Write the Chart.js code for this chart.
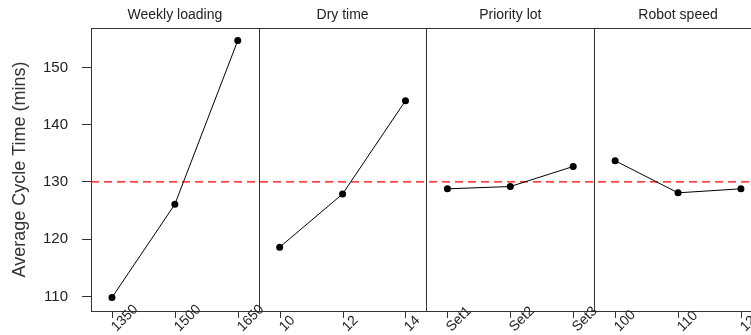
<!DOCTYPE html>
<html>
<head>
<meta charset="utf-8">
<script src="https://cdn.jsdelivr.net/npm/chart.js@4"></script>
<style>
  html, body { margin: 0; padding: 0; background: #fff; overflow: hidden; }
  canvas { display: block; }
</style>
</head>
<body>
<canvas id="mainEffects" width="751" height="335"></canvas>
<script>
// factors and their levels
var factors = ['Weekly loading', 'Dry time', 'Priority lot', 'Robot speed'];
var levels = [
  ['1350', '1500', '1650'],
  ['10', '12', '14'],
  ['Set1', 'Set2', 'Set3'],
  ['100', '110', '120']
];
// mean cycle time per level
var weeklyLoading = [109.8, 126.1, 154.7];
var dryTime = [118.6, 127.9, 144.2];
var priorityLot = [128.8, 129.2, 132.7];
var robotSpeed = [133.7, 128.1, 128.8];
var grandMean = 130;
var yTicks = [110, 120, 130, 140, 150];

var means = [weeklyLoading, dryTime, priorityLot, robotSpeed];

// each panel spans 3 levels plus 1/3 of padding either side
var PANEL = 8 / 3;
var X0 = -1 / 3;
var XMAX = 10.16;
var font = '"Liberation Sans", Arial, sans-serif';

var datasets = means.map(function (vals, k) {
  return {
    data: vals.map(function (v, i) { return { x: k * PANEL + i, y: v }; }),
    borderColor: '#000',
    borderWidth: 1,
    pointRadius: 3.5,
    pointBackgroundColor: '#000',
    pointBorderWidth: 0
  };
});
datasets.push({
  data: [{ x: X0, y: grandMean }, { x: XMAX, y: grandMean }],
  borderColor: '#ff0000',
  borderWidth: 1.2,
  borderDash: [8, 5],
  pointRadius: 0
});

// panel frames, strip titles and rotated level labels
var panelsPlugin = {
  id: 'panels',
  afterDraw: function (chart) {
    var ctx = chart.ctx;
    var area = chart.chartArea;
    var xs = chart.scales.x;
    ctx.save();
    ctx.strokeStyle = '#333';
    ctx.lineWidth = 1;
    ctx.beginPath();
    ctx.moveTo(area.left, area.top + 0.5);
    ctx.lineTo(area.right, area.top + 0.5);
    ctx.moveTo(area.left, area.bottom + 0.5);
    ctx.lineTo(area.right, area.bottom + 0.5);
    for (var k = 1; k < factors.length; k++) {
      var bx = Math.round(xs.getPixelForValue(X0 + k * PANEL)) + 0.5;
      ctx.moveTo(bx, area.top);
      ctx.lineTo(bx, area.bottom);
    }
    ctx.stroke();

    ctx.fillStyle = '#222';
    ctx.font = '14px ' + font;
    ctx.textAlign = 'center';
    ctx.textBaseline = 'middle';
    factors.forEach(function (name, k) {
      var cx = xs.getPixelForValue(X0 + (k + 0.5) * PANEL);
      ctx.fillText(name, cx, 15);
    });

    ctx.textAlign = 'left';
    ctx.textBaseline = 'alphabetic';
    levels.forEach(function (labs, k) {
      labs.forEach(function (lab, i) {
        var tx = Math.round(xs.getPixelForValue(k * PANEL + i)) + 0.5;
        ctx.beginPath();
        ctx.moveTo(tx, area.bottom);
        ctx.lineTo(tx, area.bottom + 7);
        ctx.stroke();
        ctx.save();
        ctx.translate(tx + 4, 332);
        ctx.rotate(-Math.PI / 4);
        ctx.fillText(lab, 0, 0);
        ctx.restore();
      });
    });
    ctx.restore();
  }
};

new Chart(document.getElementById('mainEffects').getContext('2d'), {
  type: 'line',
  data: { datasets: datasets },
  options: {
    responsive: false,
    animation: false,
    layout: { autoPadding: false, padding: { top: 28, bottom: 24, right: 0, left: 0 } },
    plugins: { legend: { display: false }, tooltip: { enabled: false } },
    scales: {
      x: {
        type: 'linear',
        display: false,
        min: X0,
        max: XMAX
      },
      y: {
        min: 107.45,
        max: 156.9,
        afterFit: function (s) { s.width = 91; },
        afterBuildTicks: function (s) {
          s.ticks = yTicks.map(function (v) { return { value: v }; });
        },
        grid: { drawOnChartArea: false, drawTicks: true, tickLength: 9, color: '#333' },
        border: { display: true, color: '#333' },
        ticks: { padding: 14, color: '#222', font: { family: font, size: 15 } },
        title: {
          display: true,
          text: 'Average Cycle Time (mins)',
          color: '#333',
          padding: { top: 9, bottom: 0 },
          font: { family: font, size: 18 }
        }
      }
    }
  },
  plugins: [panelsPlugin]
});
</script>
</body>
</html>
